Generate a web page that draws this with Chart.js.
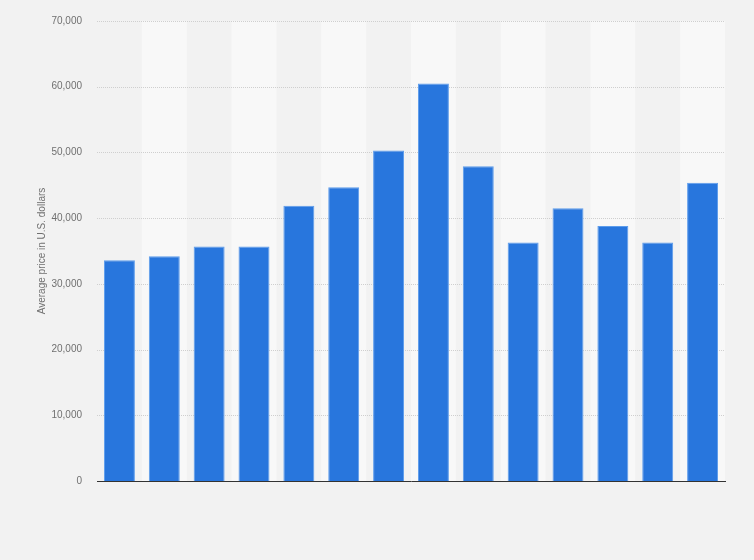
<!DOCTYPE html>
<html>
<head>
<meta charset="utf-8">
<script src="https://cdn.jsdelivr.net/npm/chart.js@4"></script>
<style>
  html, body { margin: 0; padding: 0; background: #f2f2f2; }
  #wrap { width: 754px; height: 560px; }
</style>
</head>
<body>
<div id="wrap"><canvas id="barChart"></canvas></div>
<script>
// categories are not printed in the picture, so just numbered
const categories = ['1', '2', '3', '4', '5', '6', '7', '8', '9', '10', '11', '12', '13', '14']
// average price in U.S. dollars
const prices = [33600, 34200, 35700, 35700, 41900, 44700, 50300, 60500, 47900, 36300, 41500, 38800, 36300, 45400]
const yTicks = [0, 10000, 20000, 30000, 40000, 50000, 60000, 70000]

const ctx = document.getElementById('barChart')

// light stripes behind every second category
const stripes = {
    id: 'stripes',
    beforeDatasetsDraw(chart) {
        const { ctx, chartArea, scales } = chart
        const step = (chartArea.right - chartArea.left) / categories.length
        ctx.save()
        ctx.fillStyle = '#f8f8f8'
        for (let i = 1; i < categories.length; i += 2) {
            ctx.fillRect(chartArea.left + i * step, chartArea.top, step, chartArea.bottom - chartArea.top)
        }
        // redraw the grid over the stripes
        ctx.strokeStyle = '#cfcfcf'
        ctx.lineWidth = 1
        ctx.setLineDash([1, 1])
        yTicks.forEach(v => {
            if (v === 0) return
            const y = Math.round(scales.y.getPixelForValue(v)) + 0.5
            ctx.beginPath()
            ctx.moveTo(chartArea.left, y)
            ctx.lineTo(chartArea.right, y)
            ctx.stroke()
        })
        ctx.restore()
    }
}

const barChart = new Chart(ctx, {
    type: 'bar',
    data: {
        labels: categories,
        datasets: [{
            data: prices,
            backgroundColor: '#2876dd',
            borderColor: '#5c9cec',
            borderWidth: 1,
            barPercentage: 0.69,
            categoryPercentage: 1
        }]
    },
    options: {
        responsive: true,
        maintainAspectRatio: false,
        animation: false,
        layout: { padding: { left: 36, top: 19, right: 29, bottom: 0 } },
        plugins: {
            legend: { display: false },
            tooltip: { enabled: false }
        },
        scales: {
            x: {
                grid: { display: false },
                ticks: { display: false },
                border: { color: '#333', width: 1 },
                afterFit: scale => { scale.height = 79 }
            },
            y: {
                min: 0,
                max: 70000,
                afterBuildTicks: scale => { scale.ticks = yTicks.map(v => ({ value: v })) },
                grid: { display: false, drawTicks: false },
                border: { display: false },
                ticks: {
                    padding: 15,
                    color: '#707070',
                    font: { family: 'Arial, "Liberation Sans"', size: 10 },
                    callback: v => v.toLocaleString('en-US')
                },
                title: {
                    display: true,
                    text: 'Average price in U.S. dollars',
                    color: '#707070',
                    font: { family: 'Arial, "Liberation Sans"', size: 10 },
                    padding: 0
                },
                afterFit: scale => { scale.width = 61 }
            }
        }
    },
    plugins: [stripes]
});
</script>
</body>
</html>
